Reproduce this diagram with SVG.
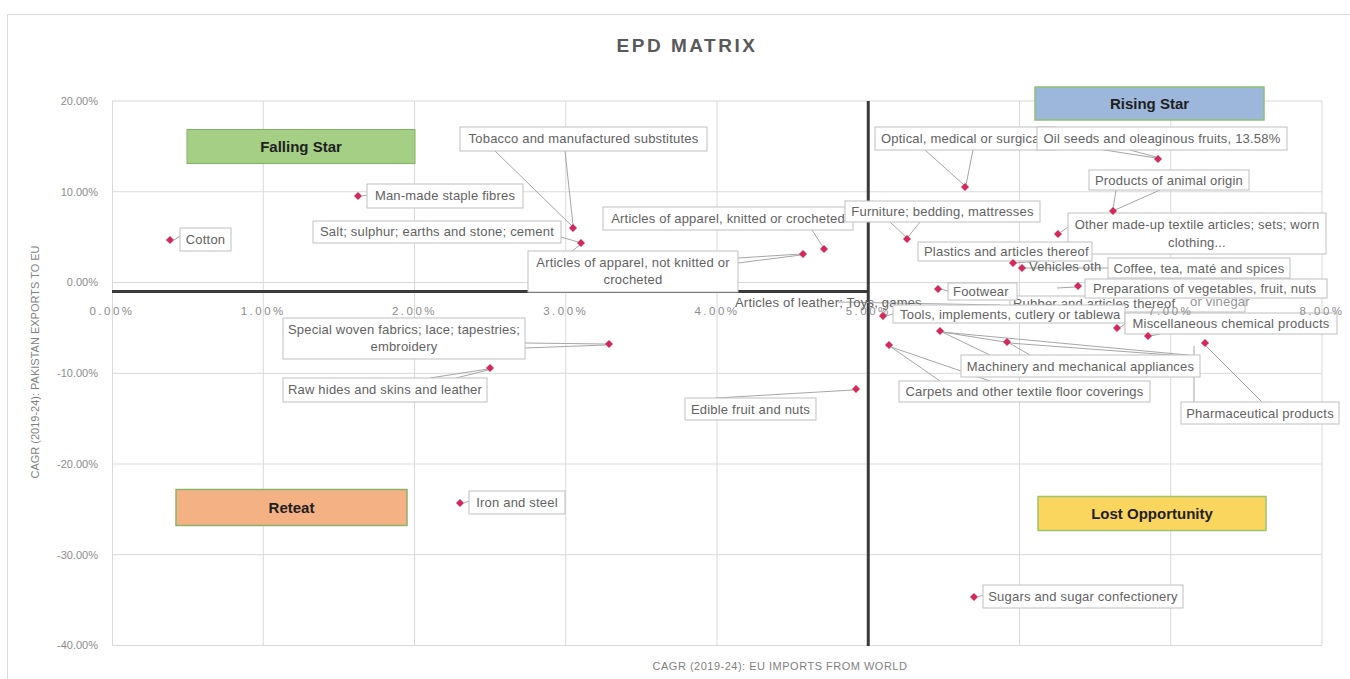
<svg xmlns="http://www.w3.org/2000/svg" xmlns:xlink="http://www.w3.org/1999/xlink" width="1350" height="679" viewBox="0 0 1350 679">
<style>
.grid{stroke:#d9d9d9;stroke-width:1;fill:none}
.axis{stroke:#3a3a3a;stroke-width:3;fill:none}
.lead{stroke:#a6a6a6;stroke-width:1;fill:none}
.box{fill:#ffffff;stroke:#bfbfbf;stroke-width:1}
.lbl{font-family:"Liberation Sans",Arial,sans-serif;font-size:13px;fill:#626262;letter-spacing:0.2px}
.ytick{font-family:"Liberation Sans",Arial,sans-serif;font-size:11px;fill:#8c8c8c;text-anchor:end}
.xtick{font-family:"Liberation Sans",Arial,sans-serif;font-size:11.5px;fill:#8c8c8c;text-anchor:middle;letter-spacing:2.5px}
.atitle{font-family:"Liberation Sans",Arial,sans-serif;font-size:11px;fill:#7f7f7f;text-anchor:middle}
.quad{font-family:"Liberation Sans",Arial,sans-serif;font-size:15px;font-weight:bold;fill:#1f1f1f;text-anchor:middle}
.pt{fill:#d42a5b}
.c{text-anchor:middle}
</style>
<defs>
<path id="dm" d="M0,-4 L4,0 L0,4 L-4,0 Z"/>
</defs>
<rect x="0" y="0" width="1350" height="679" fill="#ffffff"/>
<path d="M7.5,679 V14.5 H1350" fill="none" stroke="#d9d9d9" stroke-width="1"/>
<text x="687" y="52" font-family="Liberation Sans,Arial,sans-serif" font-size="19" font-weight="bold" fill="#595959" text-anchor="middle" letter-spacing="2.5">EPD MATRIX</text>

<g id="gridlines">
<path class="grid" d="M112,101H1322 M112,191.75H1322 M112,282.5H1322 M112,373.25H1322 M112,464H1322 M112,554.75H1322 M112,645.5H1322"/>
<path class="grid" d="M112.5,101V645.5 M263.25,101V645.5 M414.5,101V645.5 M565.75,101V645.5 M717,101V645.5 M1019.5,101V645.5 M1170.75,101V645.5 M1322,101V645.5"/>
</g>

<g id="y-axis-labels">
<text class="ytick" x="98" y="105">20.00%</text>
<text class="ytick" x="98" y="196">10.00%</text>
<text class="ytick" x="98" y="286">0.00%</text>
<text class="ytick" x="98" y="377">-10.00%</text>
<text class="ytick" x="98" y="468">-20.00%</text>
<text class="ytick" x="98" y="559">-30.00%</text>
<text class="ytick" x="98" y="649">-40.00%</text>
</g>
<text class="atitle" transform="translate(39,362) rotate(-90)" font-size="10.5">CAGR (2019-24): PAKISTAN EXPORTS TO EU</text>
<text class="atitle" x="780" y="670" font-size="11.5" letter-spacing="0.5">CAGR (2019-24): EU IMPORTS FROM WORLD</text>

<g id="quadrant-falling-star">
<rect x="187" y="129.5" width="228" height="34" fill="#a4cf85" stroke="#82b062" stroke-width="1"/>
<text class="quad" x="301" y="152">Falling Star</text>
</g>
<g id="quadrant-rising-star">
<rect x="1035" y="87" width="229" height="33" fill="#9db7dc" stroke="#8fc174" stroke-width="1.5"/>
<text class="quad" x="1149.5" y="109">Rising Star</text>
</g>
<g id="quadrant-retreat">
<rect x="176" y="489.5" width="231" height="36" fill="#f4b183" stroke="#8db36a" stroke-width="1.5"/>
<text class="quad" x="291.5" y="513">Reteat</text>
</g>
<g id="quadrant-lost-opportunity">
<rect x="1038" y="496.5" width="228" height="34" fill="#fbd65e" stroke="#9cc46c" stroke-width="1.5"/>
<text class="quad" x="1152" y="519">Lost Opportunity</text>
</g>

<g id="axes">
<path class="axis" d="M112,291.5H868.25"/>
<path class="axis" d="M868.25,101V646"/>
</g>

<g id="connectors">
<path class="lead" d="M174,240 L180,236"/>
<path class="lead" d="M362,196 L367,195"/>
<path class="lead" d="M495,151 L572,226 M565,151 L573,225"/>
<path class="lead" d="M561,237 L578,242 M572,251 L580,245"/>
<path class="lead" d="M812,230 L823,247"/>
<path class="lead" d="M738,258 L801,254 M738,263 L801,255"/>
<path class="lead" d="M525,343 L606,344 M525,348 L606,345"/>
<path class="lead" d="M430,378 L488,369 M456,378 L488,370"/>
<path class="lead" d="M464,503 L469,501"/>
<path class="lead" d="M716,398 L853,390"/>
<path class="lead" d="M978,597 L983,595"/>
<path class="lead" d="M925,150 L964,185 M973,150 L966,185"/>
<path class="lead" d="M1130,150 L1156,157 M1085,147 L1156,158"/>
<path class="lead" d="M1116,190 L1113,209 M1160,190 L1115,210"/>
<path class="lead" d="M890,222 L906,237 M920,222 L908,237"/>
<path class="lead" d="M1061,232 L1068,227"/>
<path class="lead" d="M1040,261 L1015,263"/>
<path class="lead" d="M1108,268 L1024,268"/>
<path class="lead" d="M1057,288 L1076,287"/>
<path class="lead" d="M941,289 L948,291"/>
<path class="lead" d="M838,302 L1000,305"/>
<path class="lead" d="M886,316 L893,314"/>
<path class="lead" d="M942,332 L1005,342 M942,332 L990,355 M942,332 L1198,356 M1009,343 L1198,357 M1009,343 L1030,355"/>
<path class="lead" d="M891,347 L940,381 M891,347 L990,381"/>
<path class="lead" d="M1119,328 L1125,324 M1150,336 L1160,334"/>
<path class="lead" d="M1206,346 L1262,402 M1194,402 L1194,346"/>
</g>

<g id="node-cotton"><rect class="box" x="180" y="228" width="51" height="23"/><text class="lbl c" x="205.5" y="244">Cotton</text></g>
<g id="node-manmade"><rect class="box" x="367" y="184" width="156" height="24"/><text class="lbl c" x="445" y="200">Man-made staple fibres</text></g>
<g id="node-salt"><rect class="box" x="313" y="221" width="248" height="22"/><text class="lbl c" x="437" y="236">Salt; sulphur; earths and stone; cement</text></g>
<g id="node-tobacco"><rect class="box" x="460" y="127" width="247" height="24"/><text class="lbl c" x="583.5" y="143">Tobacco and manufactured substitutes</text></g>
<g id="node-apparel-knitted"><rect class="box" x="603" y="207" width="250" height="23"/><text class="lbl c" x="728" y="223">Articles of apparel, knitted or crocheted</text></g>
<g id="node-apparel-not-knitted"><rect class="box" x="528" y="251" width="210" height="41"/><text class="lbl c" x="633" y="267">Articles of apparel, not knitted or</text><text class="lbl c" x="633" y="284">crocheted</text></g>
<g id="node-special-woven"><rect class="box" x="283" y="318" width="242" height="41"/><text class="lbl c" x="404" y="334">Special woven fabrics; lace; tapestries;</text><text class="lbl c" x="404" y="351">embroidery</text></g>
<g id="node-raw-hides"><rect class="box" x="283" y="378" width="204" height="24"/><text class="lbl c" x="385" y="394">Raw hides and skins and leather</text></g>
<g id="node-iron"><rect class="box" x="469" y="491" width="96" height="23"/><text class="lbl c" x="517" y="507">Iron and steel</text></g>
<g id="node-edible"><rect class="box" x="685" y="398" width="131" height="22"/><text class="lbl c" x="750.5" y="414">Edible fruit and nuts</text></g>
<g id="node-sugars"><rect class="box" x="983" y="585" width="200" height="23"/><text class="lbl c" x="1083" y="601">Sugars and sugar confectionery</text></g>
<g id="node-optical"><rect class="box" x="875" y="127" width="180" height="23"/><text class="lbl" x="881" y="143">Optical, medical or surgica</text></g>
<g id="node-oilseeds"><rect class="box" x="1037" y="127" width="250" height="23"/><text class="lbl c" x="1162" y="143">Oil seeds and oleaginous fruits, 13.58%</text></g>
<g id="node-animal"><rect class="box" x="1089" y="170" width="160" height="20"/><text class="lbl c" x="1169" y="185">Products of animal origin</text></g>
<g id="node-furniture"><rect class="box" x="845" y="201" width="195" height="21"/><text class="lbl c" x="942.5" y="216">Furniture; bedding, mattresses</text></g>
<g id="node-madeup"><rect class="box" x="1068" y="213" width="258" height="41"/><text class="lbl c" x="1197" y="229">Other made-up textile  articles; sets; worn</text><text class="lbl c" x="1197" y="247">clothing...</text></g>
<g id="node-plastics"><rect class="box" x="918" y="242" width="174" height="19"/><text class="lbl" x="924" y="256">Plastics and articles thereof</text></g>
<g id="node-vehicles"><text class="lbl" x="1029" y="271" font-size="12">Vehicles oth</text></g>
<g id="node-coffee"><rect class="box" x="1108" y="258" width="182" height="20"/><text class="lbl c" x="1199" y="273">Coffee, tea, maté and spices</text></g>
<g id="node-rubber"><rect class="box" x="1010" y="296" width="235" height="16"/><text class="lbl" x="1013" y="308">Rubber and articles thereof</text><text class="lbl" x="1190" y="306" font-size="11" fill-opacity="0.7">or vinegar</text></g>
<g id="node-preparations"><rect class="box" x="1085" y="279" width="242" height="19"/><text class="lbl" x="1093" y="293">Preparations of vegetables, fruit, nuts</text></g>
<g id="node-footwear"><rect class="box" x="948" y="283" width="69" height="17"/><text class="lbl" x="953" y="296">Footwear</text></g>
<g id="node-leather"><text class="lbl" x="735" y="307">Articles of leather; Toys, games</text></g>
<g id="node-tools"><rect class="box" x="893" y="305" width="232" height="18"/><text class="lbl" x="900" y="319">Tools, implements, cutlery or tablewa</text></g>
<g id="node-machinery"><rect class="box" x="961" y="355" width="239" height="22"/><text class="lbl c" x="1080.5" y="371">Machinery and mechanical appliances</text></g>
<g id="node-carpets"><rect class="box" x="899" y="381" width="251" height="21"/><text class="lbl c" x="1024.5" y="396">Carpets and other textile floor coverings</text></g>
<g id="node-misc-chemical"><rect class="box" x="1125" y="313" width="212" height="21"/><text class="lbl c" x="1231" y="328">Miscellaneous chemical products</text></g>
<g id="node-pharma"><rect class="box" x="1181" y="402" width="158" height="22"/><text class="lbl c" x="1260" y="418">Pharmaceutical products</text></g>

<g id="x-axis-labels">
<text class="xtick" x="112" y="315">0.00%</text>
<text class="xtick" x="263.25" y="315">1.00%</text>
<text class="xtick" x="414.5" y="315">2.00%</text>
<text class="xtick" x="565.75" y="315">3.00%</text>
<text class="xtick" x="717" y="315">4.00%</text>
<text class="xtick" x="868.25" y="315">5.00%</text>
<text class="xtick" x="1170.75" y="315">7.00%</text>
<text class="xtick" x="1322" y="315">8.00%</text>
</g>

<g id="points">
<use href="#dm" class="pt" x="170" y="240"/>
<use href="#dm" class="pt" x="358" y="196"/>
<use href="#dm" class="pt" x="573" y="228"/>
<use href="#dm" class="pt" x="581" y="243"/>
<use href="#dm" class="pt" x="803" y="254"/>
<use href="#dm" class="pt" x="824" y="249"/>
<use href="#dm" class="pt" x="609" y="344"/>
<use href="#dm" class="pt" x="490" y="368"/>
<use href="#dm" class="pt" x="460" y="503"/>
<use href="#dm" class="pt" x="856" y="389"/>
<use href="#dm" class="pt" x="974" y="597"/>
<use href="#dm" class="pt" x="965" y="187"/>
<use href="#dm" class="pt" x="1158" y="159"/>
<use href="#dm" class="pt" x="1113" y="211"/>
<use href="#dm" class="pt" x="907" y="239"/>
<use href="#dm" class="pt" x="1058" y="234"/>
<use href="#dm" class="pt" x="1013" y="263"/>
<use href="#dm" class="pt" x="1022" y="268"/>
<use href="#dm" class="pt" x="1078" y="286"/>
<use href="#dm" class="pt" x="938" y="289"/>
<use href="#dm" class="pt" x="883" y="316"/>
<use href="#dm" class="pt" x="940" y="331"/>
<use href="#dm" class="pt" x="1007" y="342"/>
<use href="#dm" class="pt" x="889" y="345"/>
<use href="#dm" class="pt" x="1117" y="328"/>
<use href="#dm" class="pt" x="1148" y="336"/>
<use href="#dm" class="pt" x="1205" y="343"/>
</g>
</svg>
